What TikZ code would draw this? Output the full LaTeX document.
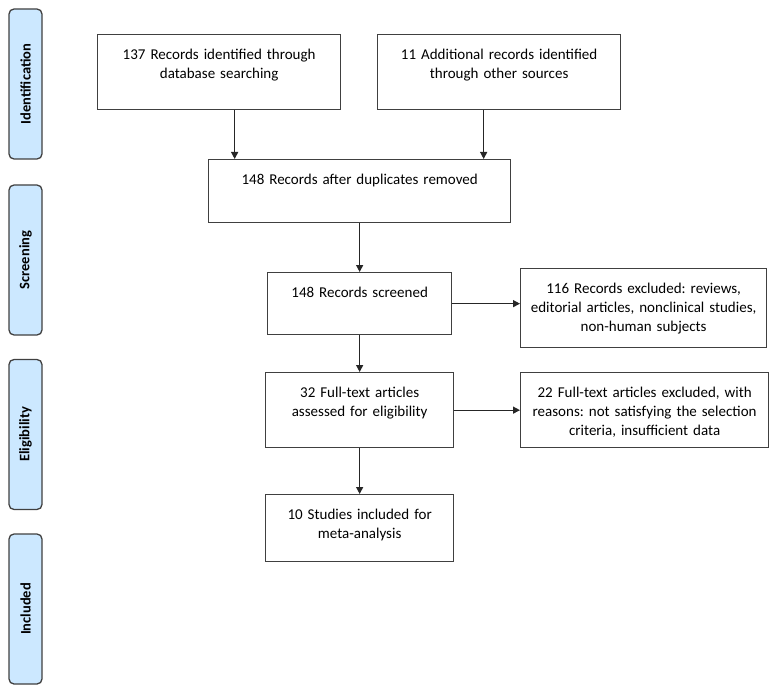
\documentclass[tikz,border=0pt]{standalone}
\usepackage{xcolor}
\usepackage{tikz}
\usepackage{fontspec}
\setmainfont{Carlito}
\frenchspacing
\usetikzlibrary{arrows.meta, positioning, calc}
\definecolor{prismaLine}{RGB}{64, 64, 64}
\definecolor{prismaPhase}{RGB}{204, 232, 255}

\begin{document}
\begin{tikzpicture}[
    x=1pt, y=-1pt,
    phase/.style={
        rectangle,
        rounded corners=5pt,
        draw=prismaLine,
        line width=1.3pt,
        fill=prismaPhase,
        minimum width=150pt,
        minimum height=33pt,
        rotate=90,
        font=\fontsize{14.5}{17}\selectfont\bfseries
    },
    stage/.style={
        rectangle,
        draw=prismaLine,
        line width=1.3pt,
        anchor=north west,
        inner sep=0pt,
        align=center,
        text height=25pt,
        font=\fontsize{15}{19}\selectfont
    },
    flow/.style={
        -{Triangle[length=7pt, width=7pt]},
        line width=1.3pt,
        draw=black!85
    }
]
    \useasboundingbox (0,0) rectangle (779,695);

    % Phases
    \node[phase] (ident) at (25.5,84) {Identification};
    \node[phase] (screen) at (25.5,260) {Screening};
    \node[phase] (elig) at (25.5,434.5) {Eligibility};
    \node[phase] (incl) at (25.5,609) {Included};

    % Records
    \node[stage, text width=243pt, text depth=50pt] (dbsearch) at (97,34)
        {137 Records identified through\\database searching};
    \node[stage, text width=243pt, text depth=50pt] (othersrc) at (377,34)
        {11 Additional records identified\\through other sources};
    \node[stage, text width=302pt, text depth=38pt] (dedup) at (208,159)
        {148 Records after duplicates removed};
    \node[stage, text width=184pt, text depth=37pt] (screened) at (267,272)
        {148 Records screened};
    \node[stage, text width=246pt, text depth=54pt] (excl) at (520,268)
        {116 Records excluded: reviews,\\editorial articles, nonclinical studies,\\non-human subjects};
    \node[stage, text width=188pt, text depth=50pt] (fulltext) at (265,372)
        {32 Full-text articles\\assessed for eligibility};
    \node[stage, text width=248pt, text depth=50pt] (ftexcl) at (520,372)
        {22 Full-text articles excluded, with\\reasons: not satisfying the selection\\criteria, insufficient data};
    \node[stage, text width=188pt, text depth=42pt] (included) at (265,494)
        {10 Studies included for\\meta-analysis};

    % Flow
    \draw[flow] ([xshift=15.5pt]dbsearch.south) -- ([xshift=15.5pt]dbsearch.south |- dedup.north);
    \draw[flow] ([xshift=-15.5pt]othersrc.south) -- ([xshift=-15.5pt]othersrc.south |- dedup.north);
    \draw[flow] (dedup.south) -- (screened.north);
    \draw[flow] (screened.east) -- (screened.east -| excl.west);
    \draw[flow] (screened.south) -- (fulltext.north);
    \draw[flow] (fulltext.east) -- (fulltext.east -| ftexcl.west);
    \draw[flow] (fulltext.south) -- (included.north);

\end{tikzpicture}
\end{document}
